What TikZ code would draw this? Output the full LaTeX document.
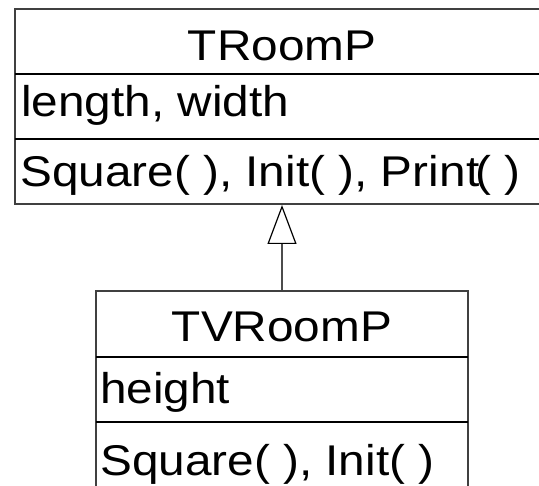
\documentclass[tikz,border=0pt]{standalone}
\usepackage{fontspec}
\newfontfamily\umlfont[FakeStretch=1.11]{Liberation Sans}
\usetikzlibrary{arrows.meta}
\tikzset{
  classbox/.style={draw=black!75, line width=2pt, rectangle, inner sep=0pt},
  divider/.style={draw=black, line width=1.3pt},
  umltext/.style={inner sep=0pt, anchor=base, font=\umlfont\fontsize{43}{50}\selectfont},
  inherit/.style={draw=black!70, line width=2pt,
    -{Triangle[open, length=39pt, width=29pt, black, fill=white, line width=1.2pt]}},
}
\begin{document}
\begin{tikzpicture}[x=1pt, y=-1pt]
\useasboundingbox (0,0) rectangle (539,486);
\clip (0,0) rectangle (539,486);
\fill[white] (0,0) rectangle (539,486);
% super class box (extends beyond right edge)
\node[classbox, minimum width=534pt, minimum height=195pt] (super) at (282,106.5) {};
\draw[divider] (15,74) -- (549,74);
\draw[divider] (15,139) -- (549,139);
\node[umltext] (superName) at (282,61) {TRoomP};
\node[umltext, anchor=base west] (superAttr) at (21,117) {length, width};
\node[umltext, anchor=base west] (superOps) at (20,187) {Square( ), Init( ), Prin\kern1pt t\kern-5pt( )};
% sub class box (extends beyond bottom edge)
\node[classbox, minimum width=372pt, minimum height=215pt] (sub) at (282,398.5) {};
\draw[divider] (96,357) -- (468,357);
\draw[divider] (96,422) -- (468,422);
\node[umltext] (subName) at (282,342) {TVRoomP};
\node[umltext, anchor=base west] (subAttr) at (100,404) {height};
\node[umltext, anchor=base west] (subOps) at (100,476) {Square( ), Init( )};
% generalization
\draw[inherit] (sub.north) -- (sub.north |- super.south);
\end{tikzpicture}
\end{document}
